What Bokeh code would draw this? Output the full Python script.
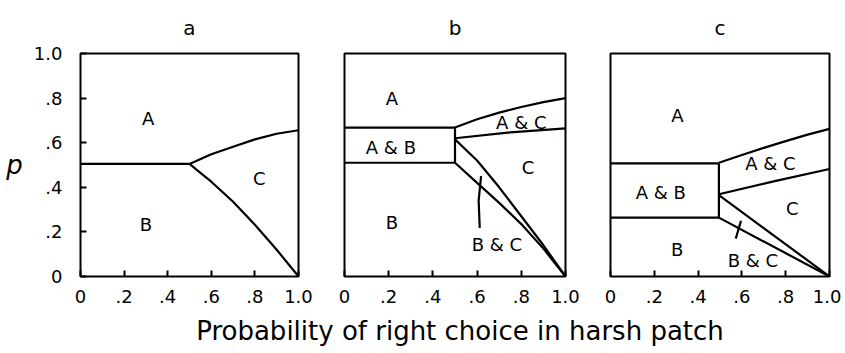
from bokeh.plotting import figure
from bokeh.layouts import row, column
from bokeh.models import Range1d, FixedTicker, ColumnDataSource, Div
from bokeh.core.properties import value
from bokeh.embed import file_html
from bokeh.resources import INLINE

# ---------------- data ----------------
ticks = [0.0, 0.2, 0.4, 0.6, 0.8, 1.0]
tick_labels = ["0", ".2", ".4", ".6", ".8", "1.0"]
panel_titles = ["a", "b", "c"]
x_title = "Probability of right choice in harsh patch"
y_title = "p"

# panel a
a_mid_x = [0.0, 0.5]
a_mid_y = [0.505, 0.505]
a_up_x = [0.5, 0.6, 0.7, 0.8, 0.9, 1.0]
a_up_y = [0.505, 0.548, 0.582, 0.615, 0.640, 0.656]
a_lo_x = [0.5, 0.55, 0.6, 0.7, 0.8, 0.9, 1.0]
a_lo_y = [0.505, 0.465, 0.425, 0.335, 0.232, 0.120, 0.0]
a_lab_x = [0.31, 0.30, 0.82]
a_lab_y = [0.71, 0.235, 0.44]
a_lab_t = ["A", "B", "C"]

# panel b
b_abtop_x = [0.0, 0.5]
b_abtop_y = [0.668, 0.668]
b_abbot_x = [0.0, 0.5]
b_abbot_y = [0.51, 0.51]
b_vert_x = [0.5, 0.5]
b_vert_y = [0.51, 0.668]
b_aac_x = [0.5, 0.6, 0.7, 0.8, 0.9, 1.0]
b_aac_y = [0.668, 0.705, 0.735, 0.760, 0.782, 0.800]
b_acc_x = [0.5, 0.75, 1.0]
b_acc_y = [0.620, 0.646, 0.664]
b_cbc_x = [0.5, 0.6, 0.7, 0.8, 0.9, 1.0]
b_cbc_y = [0.615, 0.520, 0.400, 0.270, 0.140, 0.0]
b_bbc_x = [0.5, 0.6, 0.7, 0.8, 0.9, 1.0]
b_bbc_y = [0.51, 0.420, 0.330, 0.235, 0.125, 0.0]
b_ptr_x = [0.618, 0.607, 0.612]
b_ptr_y = [0.45, 0.34, 0.218]
b_lab_x = [0.215, 0.21, 0.215, 0.83, 0.80, 0.69]
b_lab_y = [0.80, 0.58, 0.24, 0.49, 0.69, 0.143]
b_lab_t = ["A", "A & B", "B", "C", "A & C", "B & C"]

# panel c
c_abtop_x = [0.0, 0.495]
c_abtop_y = [0.507, 0.507]
c_abbot_x = [0.0, 0.495]
c_abbot_y = [0.264, 0.264]
c_vert_x = [0.495, 0.495]
c_vert_y = [0.264, 0.507]
c_aac_x = [0.495, 0.6, 0.7, 0.8, 0.9, 1.0]
c_aac_y = [0.510, 0.545, 0.577, 0.607, 0.636, 0.662]
c_acc_x = [0.495, 0.75, 1.0]
c_acc_y = [0.369, 0.428, 0.482]
c_cbc_x = [0.495, 1.0]
c_cbc_y = [0.365, 0.0]
c_bbc_x = [0.495, 1.0]
c_bbc_y = [0.264, 0.0]
c_ptr_x = [0.572, 0.596]
c_ptr_y = [0.17, 0.25]
c_lab_x = [0.305, 0.23, 0.305, 0.73, 0.83, 0.65]
c_lab_y = [0.72, 0.377, 0.12, 0.505, 0.305, 0.07]
c_lab_t = ["A", "A & B", "B", "A & C", "C", "B & C"]

FONT = "DejaVu Sans"
TOP = 52


def make_panel(title, lines, lab_x, lab_y, lab_t, left, fw, right, show_y, align):
    p = figure(frame_width=fw, frame_height=223,
               x_range=Range1d(0, 1), y_range=Range1d(0, 1),
               output_backend="svg", toolbar_location=None, title=title,
               min_border_left=left, min_border_right=right,
               min_border_top=TOP, min_border_bottom=38)
    p.grid.visible = False
    p.outline_line_color = "black"
    p.outline_line_width = 2
    p.outline_line_alpha = 1.0
    p.background_fill_color = "white"
    p.border_fill_color = "white"

    p.title.text_font = FONT
    p.title.text_font_size = "20px"
    p.title.text_font_style = "normal"
    p.title.text_color = "black"
    p.title.align = "center"
    p.title.standoff = 27

    for ax in [p.xaxis[0], p.yaxis[0]]:
        ax.ticker = FixedTicker(ticks=ticks)
        ax.major_label_overrides = dict(zip(ticks, tick_labels))
        ax.major_tick_in = 6
        ax.major_tick_out = 0
        ax.minor_tick_in = 0
        ax.minor_tick_out = 0
        ax.major_tick_line_width = 2
        ax.major_tick_line_color = "black"
        ax.axis_line_color = None
        ax.major_label_text_font = FONT
        ax.major_label_text_font_size = "18px"
        ax.major_label_text_color = "black"

    p.xaxis.major_label_standoff = 13
    p.xaxis.major_label_text_align = align

    if show_y:
        p.yaxis.major_label_standoff = 18
        p.yaxis.axis_label = y_title
        p.yaxis.axis_label_text_font = FONT
        p.yaxis.axis_label_text_font_size = "26px"
        p.yaxis.axis_label_text_font_style = "italic"
        p.yaxis.axis_label_text_color = "black"
        p.yaxis.axis_label_standoff = 8
        try:
            p.yaxis.axis_label_orientation = "horizontal"
        except Exception:
            pass
    else:
        p.yaxis.visible = False

    for xs, ys in lines:
        p.line(xs, ys, line_color="black", line_width=2.2)

    src = ColumnDataSource(dict(x=lab_x, y=lab_y, text=lab_t))
    p.text(x="x", y="y", text="text", source=src, text_align="center",
           text_baseline="middle", text_font=value(FONT),
           text_font_size=value("18px"), text_color="black")
    return p


pa = make_panel(panel_titles[0],
                [(a_mid_x, a_mid_y), (a_up_x, a_up_y), (a_lo_x, a_lo_y)],
                a_lab_x, a_lab_y, a_lab_t, 80, 218, 18, True, "center")
pb = make_panel(panel_titles[1],
                [(b_abtop_x, b_abtop_y), (b_abbot_x, b_abbot_y), (b_vert_x, b_vert_y),
                 (b_aac_x, b_aac_y), (b_acc_x, b_acc_y), (b_cbc_x, b_cbc_y),
                 (b_bbc_x, b_bbc_y), (b_ptr_x, b_ptr_y)],
                b_lab_x, b_lab_y, b_lab_t, 28, 221, 16, False, "center")
pc = make_panel(panel_titles[2],
                [(c_abtop_x, c_abtop_y), (c_abbot_x, c_abbot_y), (c_vert_x, c_vert_y),
                 (c_aac_x, c_aac_y), (c_acc_x, c_acc_y), (c_cbc_x, c_cbc_y),
                 (c_bbc_x, c_bbc_y), (c_ptr_x, c_ptr_y)],
                c_lab_x, c_lab_y, c_lab_t, 29, 219, 12, False, "right")

label = Div(text=x_title, width=760, height=34, margin=(2, 0, 0, 80),
            styles={"text-align": "center", "font-family": FONT,
                    "font-size": "26px", "color": "black", "line-height": "30px",
                    "white-space": "nowrap"})

layout = column(row(pa, pb, pc), label)
open("out.html", "w").write(file_html(layout, INLINE))
